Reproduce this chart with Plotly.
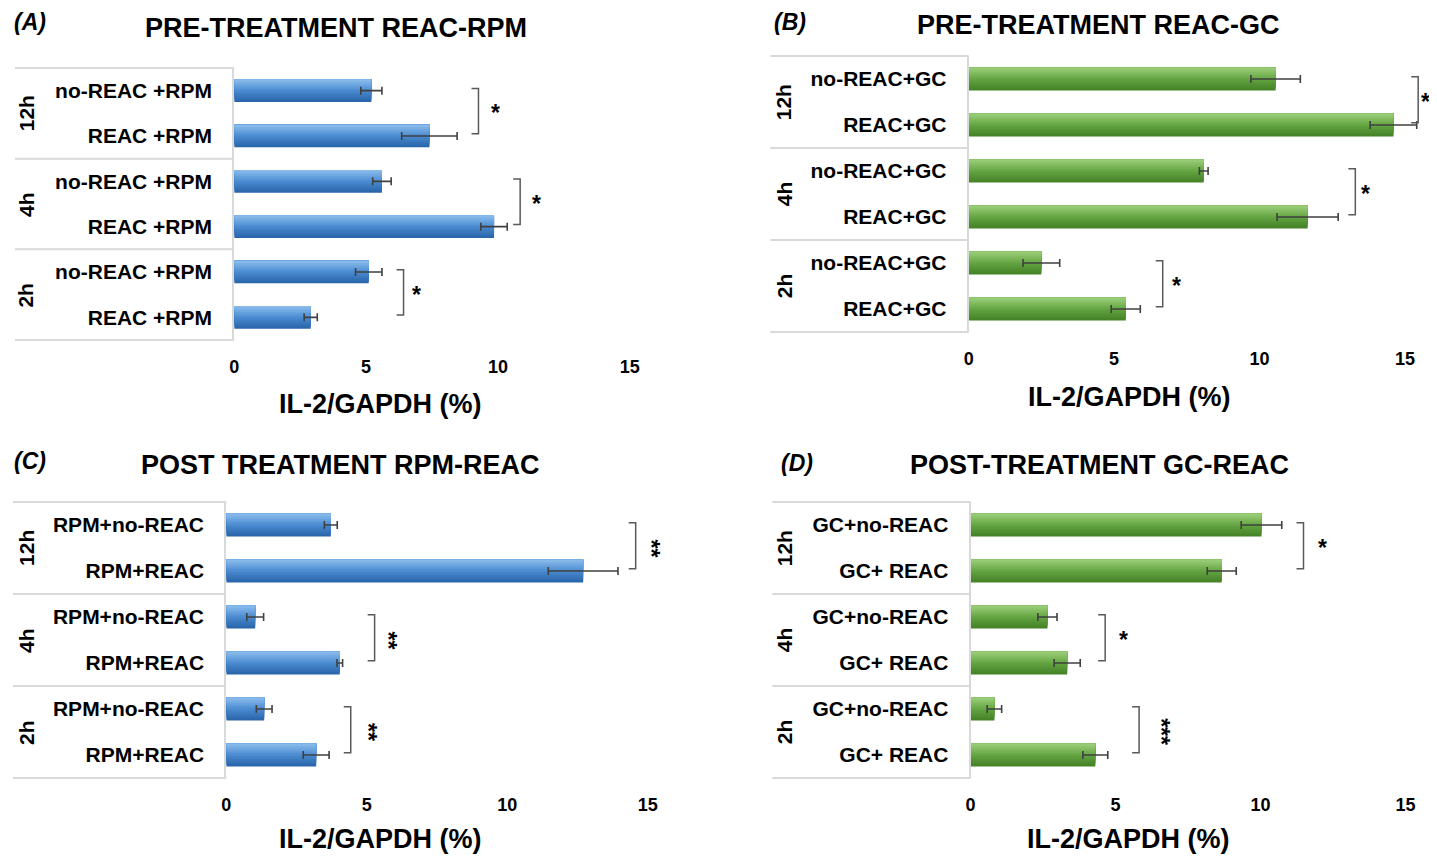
import plotly.graph_objects as go

W, H = 1437, 865
PAD = 8  # default page body margin

# ---------------- data (top-to-bottom order within each panel) ----------------
groups = ["12h", "4h", "2h"]

labels_A = ["no-REAC +RPM", "REAC +RPM", "no-REAC +RPM", "REAC +RPM", "no-REAC +RPM", "REAC +RPM"]
values_A = [5.2, 7.4, 5.6, 9.85, 5.1, 2.9]
errors_A = [0.4, 1.05, 0.35, 0.5, 0.5, 0.25]
stars_A = ["*", "*", "*"]

labels_B = ["no-REAC+GC", "REAC+GC", "no-REAC+GC", "REAC+GC", "no-REAC+GC", "REAC+GC"]
values_B = [10.55, 14.6, 8.08, 11.65, 2.5, 5.4]
errors_B = [0.85, 0.8, 0.15, 1.05, 0.63, 0.5]
stars_B = ["*", "*", "*"]

labels_C = ["RPM+no-REAC", "RPM+REAC", "RPM+no-REAC", "RPM+REAC", "RPM+no-REAC", "RPM+REAC"]
values_C = [3.72, 12.7, 1.03, 4.04, 1.35, 3.2]
errors_C = [0.23, 1.24, 0.3, 0.1, 0.28, 0.46]
stars_C = ["**", "**", "**"]

labels_D = ["GC+no-REAC", "GC+ REAC", "GC+no-REAC", "GC+ REAC", "GC+no-REAC", "GC+ REAC"]
values_D = [10.03, 8.66, 2.65, 3.33, 0.82, 4.3]
errors_D = [0.7, 0.5, 0.33, 0.45, 0.25, 0.43]
stars_D = ["*", "*", "***"]

titles = ["PRE-TREATMENT REAC-RPM", "PRE-TREATMENT REAC-GC",
          "POST TREATMENT RPM-REAC", "POST-TREATMENT GC-REAC"]
panel_tags = ["(A)", "(B)", "(C)", "(D)"]
x_ticks = [0, 5, 10, 15]
x_title = "IL-2/GAPDH (%)"

# ---------------- layout helpers ----------------
FW, FH = W - 2 * PAD, H - 2 * PAD


def px(x):
    return (x - PAD) / FW


def py(y):
    return 1 - (y - PAD) / FH


def hex2rgb(h):
    return tuple(int(h[i:i + 2], 16) for i in (1, 3, 5))


def ramp(c_dark, c_mid, c_light, n=12):
    a, b, c = hex2rgb(c_dark), hex2rgb(c_mid), hex2rgb(c_light)
    out = []
    for k in range(n):
        t = k / (n - 1)
        if t < 0.5:
            u = t / 0.5
            rgb = [a[j] + (b[j] - a[j]) * u for j in range(3)]
        else:
            u = (t - 0.5) / 0.5
            rgb = [b[j] + (c[j] - b[j]) * u for j in range(3)]
        out.append("rgb(%d,%d,%d)" % tuple(round(v) for v in rgb))
    return out


BLUE = ramp("#2b66ab", "#4a8ad0", "#86b9ea")
GREEN = ramp("#468329", "#63a441", "#98cb76")

panels = [
    dict(lab=labels_A, val=values_A, err=errors_A, stars=stars_A, col=BLUE,
         x0=230, ppu=26.47, ytop=68, ybot=340, boxl=10, glx=21,
         title=(332, 28), tag=(7, 22), xt=(377, 404),
         br=[9.26, 10.84, 6.42], st=[9.9, 11.45, 6.91]),
    dict(lab=labels_B, val=values_B, err=errors_B, stars=stars_B, col=GREEN,
         x0=967, ppu=29.2, ytop=56, ybot=332, boxl=768, glx=782,
         title=(1097, 25), tag=(770, 22), xt=(1128, 397),
         br=[15.45, 13.29, 6.67], st=[15.7, 13.63, 7.16]),
    dict(lab=labels_C, val=values_C, err=errors_C, stars=stars_C, col=BLUE,
         x0=222, ppu=28.2, ytop=502, ybot=778, boxl=8, glx=21,
         title=(337, 465), tag=(7, 461), xt=(377, 839),
         br=[14.57, 5.28, 4.43], st=[15.1, 5.74, 5.04]),
    dict(lab=labels_D, val=values_D, err=errors_D, stars=stars_D, col=GREEN,
         x0=969, ppu=29.1, ytop=502, ybot=778, boxl=770, glx=782,
         title=(1098, 465), tag=(777, 463), xt=(1127, 839),
         br=[11.48, 4.64, 5.81], st=[12.13, 5.26, 6.56]),
]

pos = [5, 4, 3, 2, 1, 0]          # top-to-bottom positions
YR = [-0.5, 5.5]

fig = go.Figure()
layout = {}
shapes = []
annotations = []
font_family = "Liberation Sans, Arial, sans-serif"

for i, p in enumerate(panels):
    n = "" if i == 0 else str(i + 1)
    xa, ya = "x" + n, "y" + n
    xmax = min(16.0, (PAD + FW - 1 - p["x0"]) / p["ppu"])
    xd = [px(p["x0"]), min(1.0, px(p["x0"] + xmax * p["ppu"]))]
    yd = [py(p["ybot"]), py(p["ytop"])]

    # gradient bars: stacked overlays sharing the top edge
    nl = len(p["col"])
    for k, c in enumerate(p["col"]):
        w = 0.5 - k * (0.5 - 0.05) / (nl - 1)
        fig.add_trace(go.Bar(
            x=p["val"], y=pos, orientation="h", xaxis=xa, yaxis=ya,
            width=w, offset=0.25 - w, marker=dict(color=c, line=dict(width=0)),
            hoverinfo="skip", showlegend=False))
    # error bars
    fig.add_trace(go.Bar(
        x=p["val"], y=pos, orientation="h", xaxis=xa, yaxis=ya,
        width=0.5, marker=dict(color="rgba(0,0,0,0)", line=dict(width=0)),
        error_x=dict(type="data", array=p["err"], visible=True,
                     color="#404040", thickness=1.6, width=4),
        showlegend=False))

    layout["xaxis" + n] = dict(
        domain=xd, anchor=ya, range=[0, xmax], tickvals=x_ticks,
        showgrid=False, zeroline=False, showline=False,
        ticks="outside", ticklen=10, tickcolor="rgba(0,0,0,0)",
        tickfont=dict(size=18, family=font_family, color="black", weight="bold"),
        fixedrange=True)
    layout["yaxis" + n] = dict(
        domain=yd, anchor=xa, range=YR, tickvals=pos, ticktext=p["lab"],
        showgrid=False, zeroline=False, showline=True, linecolor="#d9d9d9",
        linewidth=2, ticks="outside", ticklen=16, tickcolor="rgba(0,0,0,0)",
        tickfont=dict(size=21, family=font_family, color="black", weight="bold"),
        fixedrange=True)

    def ypaper(v, yd=yd):
        return yd[0] + (v - YR[0]) / (YR[1] - YR[0]) * (yd[1] - yd[0])

    # label box horizontal lines
    for v in [5.5, 3.5, 1.5, -0.5]:
        shapes.append(dict(type="line", xref="paper", yref="paper",
                           x0=max(0.0, px(p["boxl"])), x1=xd[0], y0=ypaper(v), y1=ypaper(v),
                           line=dict(color="#d9d9d9", width=2)))
    for g, gname in enumerate(groups):
        center = (pos[2 * g] + pos[2 * g + 1]) / 2
        annotations.append(dict(
            text=gname, xref="paper", yref="paper", x=px(p["glx"]), y=ypaper(center),
            textangle=-90, showarrow=False, xanchor="center", yanchor="middle",
            font=dict(size=21, family=font_family, color="black", weight="bold")))
        # significance bracket
        top = pos[2 * g] + 0.05
        bot = pos[2 * g + 1] + 0.05
        bx = p["br"][g]
        t = 7.0 / p["ppu"]
        shapes.append(dict(
            type="path", xref=xa, yref=ya,
            path=f"M {bx - t},{top} L {bx},{top} L {bx},{bot} L {bx - t},{bot}",
            line=dict(color="#595959", width=1.5)))
        s = p["stars"][g]
        annotations.append(dict(
            text=s, xref=xa, yref=ya, x=p["st"][g], y=center,
            textangle=90 if len(s) > 1 else 0, showarrow=False,
            xanchor="center", yanchor="middle",
            font=dict(size=23, family=font_family, color="black", weight="bold")))

    annotations.append(dict(
        text=titles[i], xref="paper", yref="paper", x=px(p["title"][0]), y=py(p["title"][1]),
        showarrow=False, xanchor="center", yanchor="middle",
        font=dict(size=27, family=font_family, color="black", weight="bold")))
    annotations.append(dict(
        text="<i>" + panel_tags[i] + "</i>", xref="paper", yref="paper",
        x=px(p["tag"][0]), y=py(p["tag"][1]), showarrow=False,
        xanchor="left", yanchor="middle",
        font=dict(size=23, family=font_family, color="black", weight="bold")))
    annotations.append(dict(
        text=x_title, xref="paper", yref="paper", x=px(p["xt"][0]), y=py(p["xt"][1]),
        showarrow=False, xanchor="center", yanchor="middle",
        font=dict(size=27, family=font_family, color="black", weight="bold")))

fig.update_layout(
    width=FW, height=FH, margin=dict(l=0, r=0, t=0, b=0),
    plot_bgcolor="white", paper_bgcolor="white",
    barmode="overlay", showlegend=False,
    font=dict(family=font_family, color="black"),
    shapes=shapes, annotations=annotations, **layout)

fig.write_html("out.html")
